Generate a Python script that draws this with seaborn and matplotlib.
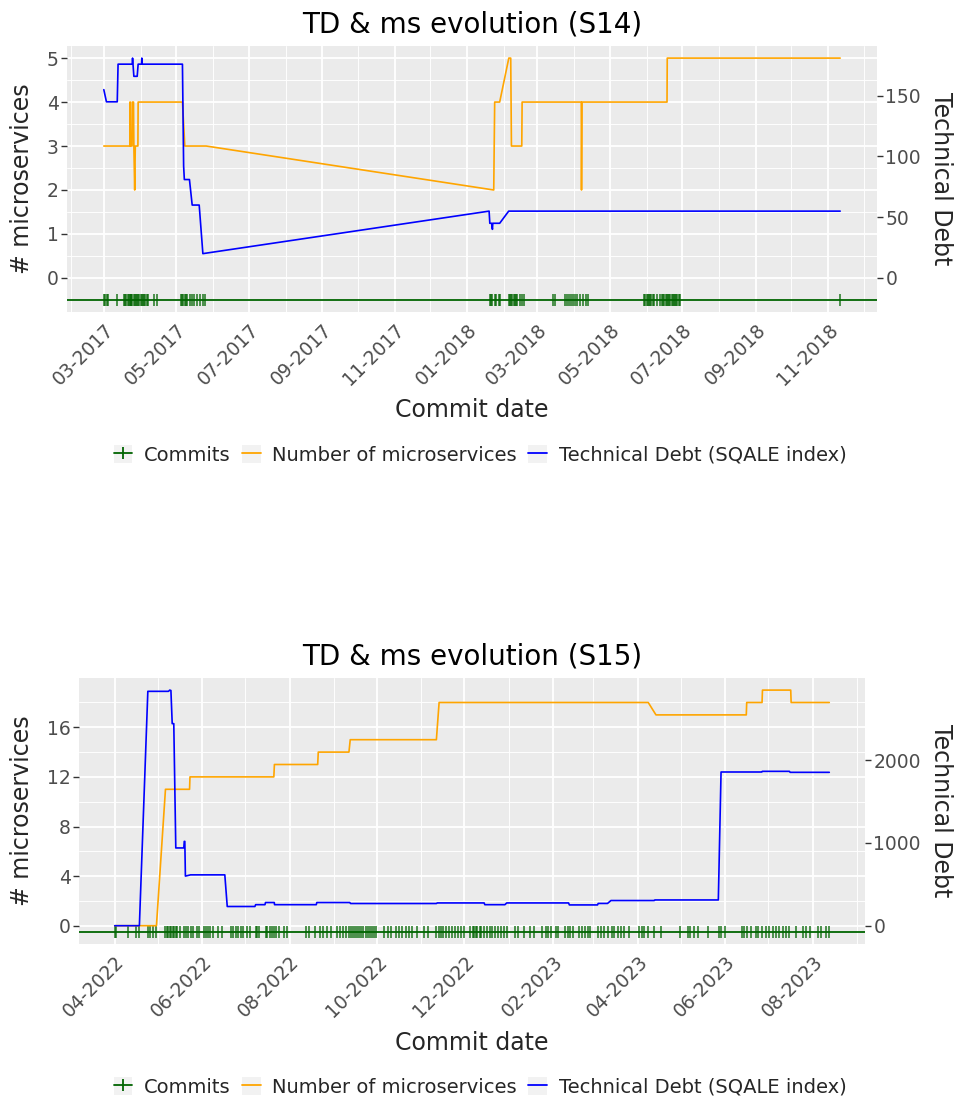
import numpy as np
import pandas as pd
import matplotlib
matplotlib.use("Agg")
import matplotlib.pyplot as plt
import matplotlib.dates as mdates
from matplotlib.ticker import FixedLocator, MultipleLocator
from matplotlib.lines import Line2D
from matplotlib.patches import Patch
from matplotlib.legend_handler import HandlerTuple
import seaborn as sns

# ---------------- S14 ----------------
s14_title = "TD & ms evolution (S14)"
s14_start = "2017-03-01"
s14_commit_days = [0, 1.2, 2.3, 3.7, 11.3, 17, 18, 19, 20, 21, 22, 22.5, 23, 24, 25,
                   26, 27, 28, 29, 30, 31, 32, 33, 34, 35, 36, 37, 42, 44.4, 65, 66,
                   67, 68, 69, 70, 72.4, 74.4, 76.3, 78.6, 81.4, 83.7, 85.6, 325, 326,
                   327.2, 329.1, 330.5, 332.8, 333.3, 341, 342, 343, 344, 345, 346, 347,
                   348, 350, 352, 353.5, 378.3, 380.2, 388, 390, 391.4, 393.4, 395.1,
                   397, 398.5, 401.3, 403.5, 406, 407.4, 455, 456, 457, 458, 459, 460,
                   461, 462, 463, 465.8, 468.6, 470, 471, 472, 473, 474, 475, 476, 477,
                   478, 479, 480, 481, 482, 483, 484, 485, 620]
s14_ms_days = [0, 21.9, 22.0, 22.3, 22.5, 23.8, 24.0, 25.0, 25.3, 26.0, 26.5, 28.7,
               28.9, 66.2, 68.2, 86.2, 328.3, 329.1, 333.3, 341.0, 342.6, 343.2, 351.9,
               352.2, 402.0, 402.2, 402.6, 474.2, 474.4, 620]
s14_ms = [3, 3, 4, 4, 3, 3, 4, 4, 3, 2, 3, 3,
          4, 4, 3, 3, 2, 4, 4, 5, 5, 3, 3,
          4, 4, 2, 4, 4, 5, 5]
s14_td_days = [0, 2.2, 11.3, 12.0, 23.9, 24.2, 25.3, 28.1, 28.9, 31.8, 32.0, 32.2,
               66.2, 67.2, 67.8, 72.1, 74.4, 80.3, 83.4, 324.4, 325.0, 326.5, 327.2,
               327.5, 333.3, 340.9, 620]
s14_td = [155, 145, 145, 176, 176, 181, 166, 166, 176, 176, 181, 176,
          176, 92, 81, 81, 60, 60, 20, 55, 45, 45, 40,
          45, 45, 55, 55]
s14_ms_ticks = [0, 1, 2, 3, 4, 5]
s14_td_ticks = [0, 50, 100, 150]

# ---------------- S15 ----------------
s15_title = "TD & ms evolution (S15)"
s15_start = "2022-04-01"
s15_commit_days = [0, 1, 9.1, 14.9, 16.8, 23.3, 24.9, 26.8, 29.1, 35.4, 36.6, 37.5,
                   38.5, 39.5, 40.5, 41.5, 42.5, 43.5, 45.4, 48.2, 49.5, 51, 52.9, 54.7,
                   57.1, 58.7, 62.2, 63.5, 65, 66.4, 68.7, 71.9, 75, 80.8, 82.7, 84.3,
                   86.2, 87.8, 89.6, 92, 94.7, 98.3, 99.5, 100.6, 105.2, 106.4, 108,
                   109.5, 111, 112.2, 114.5, 118, 119.9, 133.6, 135.2, 139.7, 143.2,
                   145.5, 148.3, 151.1, 155.3, 157, 159, 161, 163.4, 164.5, 166, 167.5,
                   169, 170.5, 172, 173.5, 175, 176.5, 178, 179.5, 181, 182, 188, 190.7,
                   192.6, 196.1, 198.4, 200.3, 203, 205.4, 207.7, 211.2, 215.9, 218.7,
                   224.3, 226, 227.8, 229.3, 230.9, 233.3, 235.6, 237.5, 239.6, 241.5,
                   243.5, 247.9, 249.6, 250.7, 252, 253, 254.5, 255.4, 257.7, 259.5,
                   261.5, 263.5, 265.5, 267.5, 269.5, 271.5, 274, 279.5, 281, 285.6,
                   289.8, 292.6, 298.4, 300.8, 302.4, 304.3, 307.8, 309, 314.2, 316,
                   317.7, 319.4, 324, 325.7, 328, 330.3, 331.7, 337.3, 339, 341, 344.3,
                   346.7, 348.5, 350.8, 353.1, 355.4, 358.9, 365.9, 367.6, 369.4, 371.8,
                   376.4, 381.1, 394.6, 400.1, 401.5, 403.9, 406.7, 413.7, 421.4, 423,
                   425.8, 437.6, 439.2, 441.1, 443.9, 447.4, 449, 451.4, 454.4, 456.7,
                   459.1, 461.4, 463.7, 466, 468.4, 470.7, 475.4, 480, 482.3, 485.4,
                   490.5, 492.8, 496.3, 498.5]
s15_ms_days = [0, 29.1, 35.4, 52.2, 52.5, 111.0, 111.4, 141.6, 142.0, 163.4, 164.3,
               224.4, 226.3, 372.2, 377.6, 440.6, 440.9, 451.6, 451.9, 471.6, 471.9,
               498.5]
s15_ms = [0, 0, 11, 11, 12, 12, 13, 13, 14, 14, 15,
          15, 18, 18, 17, 17, 18, 18, 19, 19, 18,
          18]
s15_td_days = [0, 17.2, 23.1, 37.5, 38.4, 39.2, 40.1, 41.2, 42.6, 48.2, 48.5, 48.9,
               49.3, 52.9, 76.8, 78.5, 97.8, 98.3, 104.8, 105.2, 111.3, 111.5, 140.6,
               141.0, 164.0, 164.5, 224.4, 225.0, 257.7, 258.2, 272.2, 273.5, 316.6,
               317.2, 336.8, 337.3, 343.8, 346.2, 376.4, 376.8, 421.1, 423.0, 451.4,
               451.8, 470.7, 471.2, 498.5]
s15_td = [0, 0, 2830, 2830, 2845, 2840, 2440, 2440, 939, 939, 1018, 1018,
          599, 614, 614, 232, 232, 254, 254, 280, 280, 254, 254,
          280, 280, 268, 268, 275, 275, 254, 254, 275, 275,
          251, 251, 269, 269, 304, 304, 311, 311, 1856, 1856,
          1864, 1864, 1852, 1852]
s15_ms_ticks = [0, 4, 8, 12, 16]
s15_td_ticks = [0, 1000, 2000]

legend_labels = ["Commits", "Number of microservices", "Technical Debt (SQALE index)"]

COMMIT_GREEN = "#006400"
MS_ORANGE = "#FFA500"
TD_BLUE = "#0000FF"
PANEL_BG = "#EBEBEB"
TICK_TEXT = "#4D4D4D"
TICK_LINE = "#333333"

sns.set_theme(style="darkgrid")
plt.rcParams["font.family"] = ["DejaVu Sans"]

W, H = 957, 1104
fig = plt.figure(figsize=(W / 100, H / 100), dpi=100)
fig.patch.set_facecolor("white")


def box(left, top, right, bottom):
    return [left / W, 1 - bottom / H, (right - left) / W, (bottom - top) / H]


def to_dates(start, days):
    return pd.Timestamp(start) + pd.to_timedelta(np.asarray(days, dtype=float), unit="D")


def draw_panel(ax, title, start, commit_days, ms_days, ms, td_days, td,
               ms_ticks, td_ticks, major_months, minor_months, ms_minor):
    commits = to_dates(start, commit_days)
    factor = max(td) / max(ms)

    ax.set_facecolor(PANEL_BG)
    for s in ax.spines.values():
        s.set_visible(False)

    # commit rug along y = -0.5
    ax.axhline(-0.5, color=COMMIT_GREEN, lw=1.3, zorder=2)
    ax.plot(commits, np.full(len(commits), -0.5), ls="none", marker="|",
            ms=9, mew=1.2, color=COMMIT_GREEN, alpha=0.8, zorder=3)

    ms_df = pd.DataFrame({"date": to_dates(start, ms_days), "value": ms})
    td_df = pd.DataFrame({"date": to_dates(start, td_days),
                          "value": np.asarray(td, dtype=float) / factor})
    sns.lineplot(data=ms_df, x="date", y="value", ax=ax, color=MS_ORANGE, lw=1.2,
                 estimator=None, sort=False, zorder=4)
    sns.lineplot(data=td_df, x="date", y="value", ax=ax, color=TD_BLUE, lw=1.2,
                 estimator=None, sort=False, zorder=5)

    # 5% expansion of the data range on both axes
    x0, x1 = commits.min(), commits.max()
    span = x1 - x0
    ax.set_xlim(x0 - 0.05 * span, x1 + 0.05 * span)
    lo, hi = -0.5, max(max(ms), max(td) / factor)
    pad = 0.05 * (hi - lo)
    ylim = (lo - pad, hi + pad)
    ax.set_ylim(*ylim)

    ax.xaxis.set_major_locator(mdates.MonthLocator(bymonth=major_months))
    ax.xaxis.set_minor_locator(mdates.MonthLocator(bymonth=minor_months))
    ax.xaxis.set_major_formatter(mdates.DateFormatter("%m-%Y"))
    ax.yaxis.set_major_locator(FixedLocator(ms_ticks))
    ax.yaxis.set_minor_locator(MultipleLocator(ms_minor))

    ax.grid(which="major", color="white", lw=1.3)
    ax.grid(which="minor", color="white", lw=0.65)
    ax.set_axisbelow(True)

    ax.tick_params(axis="both", which="major", length=4, width=1, color=TICK_LINE,
                   labelsize=13.5, labelcolor=TICK_TEXT, pad=2)
    ax.tick_params(axis="both", which="minor", length=0)
    for lab in ax.get_xticklabels():
        lab.set_rotation(45)
        lab.set_ha("right")
        lab.set_va("top")
        lab.set_rotation_mode("anchor")
    ax.tick_params(axis="x", pad=2)
    ax.set_xlabel("")
    ax.set_ylabel("")
    ax.set_title(title, fontsize=20, pad=10, color="black")

    ax2 = ax.twinx()
    ax2.set_ylim(ylim[0] * factor, ylim[1] * factor)
    ax2.yaxis.set_major_locator(FixedLocator(td_ticks))
    ax2.grid(False)
    for s in ax2.spines.values():
        s.set_visible(False)
    ax2.tick_params(axis="y", length=4, width=1, color=TICK_LINE, labelsize=13.5,
                    labelcolor=TICK_TEXT, pad=2)
    return ax2


def add_legend(y_px):
    handles = [
        (Patch(facecolor="#F2F2F2", edgecolor="none"),
         Line2D([], [], color=COMMIT_GREEN, lw=1.3, marker="|", ms=9, mew=1.3)),
        (Patch(facecolor="#F2F2F2", edgecolor="none"),
         Line2D([], [], color=MS_ORANGE, lw=1.3)),
        (Patch(facecolor="#F2F2F2", edgecolor="none"),
         Line2D([], [], color=TD_BLUE, lw=1.3)),
    ]
    fig.legend(handles, legend_labels, handler_map={tuple: HandlerTuple(ndivide=1)},
               loc="center", bbox_to_anchor=(480 / W, 1 - y_px / H), ncol=3,
               frameon=False, fontsize=14, handlelength=0.95, handleheight=1.0,
               handletextpad=0.6, columnspacing=0.6, borderaxespad=0)


# top chart
ax_top = fig.add_axes(box(67, 46, 877, 312))
draw_panel(ax_top, s14_title, s14_start, s14_commit_days, s14_ms_days, s14_ms,
           s14_td_days, s14_td, s14_ms_ticks, s14_td_ticks,
           [1, 3, 5, 7, 9, 11], [2, 4, 6, 8, 10, 12], 0.5)
fig.text(472 / W, 1 - 410 / H, "Commit date", ha="center", va="center", fontsize=17)
fig.text(22 / W, 1 - 179 / H, "# microservices", ha="center", va="center",
         rotation=90, fontsize=17)
fig.text(941 / W, 1 - 179 / H, "Technical Debt", ha="center", va="center",
         rotation=270, fontsize=17)
add_legend(455)

# bottom chart
ax_bot = fig.add_axes(box(79, 678, 865, 944))
draw_panel(ax_bot, s15_title, s15_start, s15_commit_days, s15_ms_days, s15_ms,
           s15_td_days, s15_td, s15_ms_ticks, s15_td_ticks,
           [2, 4, 6, 8, 10, 12], [1, 3, 5, 7, 9, 11], 2)
fig.text(472 / W, 1 - 1043 / H, "Commit date", ha="center", va="center", fontsize=17)
fig.text(22 / W, 1 - 811 / H, "# microservices", ha="center", va="center",
         rotation=90, fontsize=17)
fig.text(941 / W, 1 - 811 / H, "Technical Debt", ha="center", va="center",
         rotation=270, fontsize=17)
add_legend(1087)

fig.savefig("out.png", dpi=100, facecolor="white")
